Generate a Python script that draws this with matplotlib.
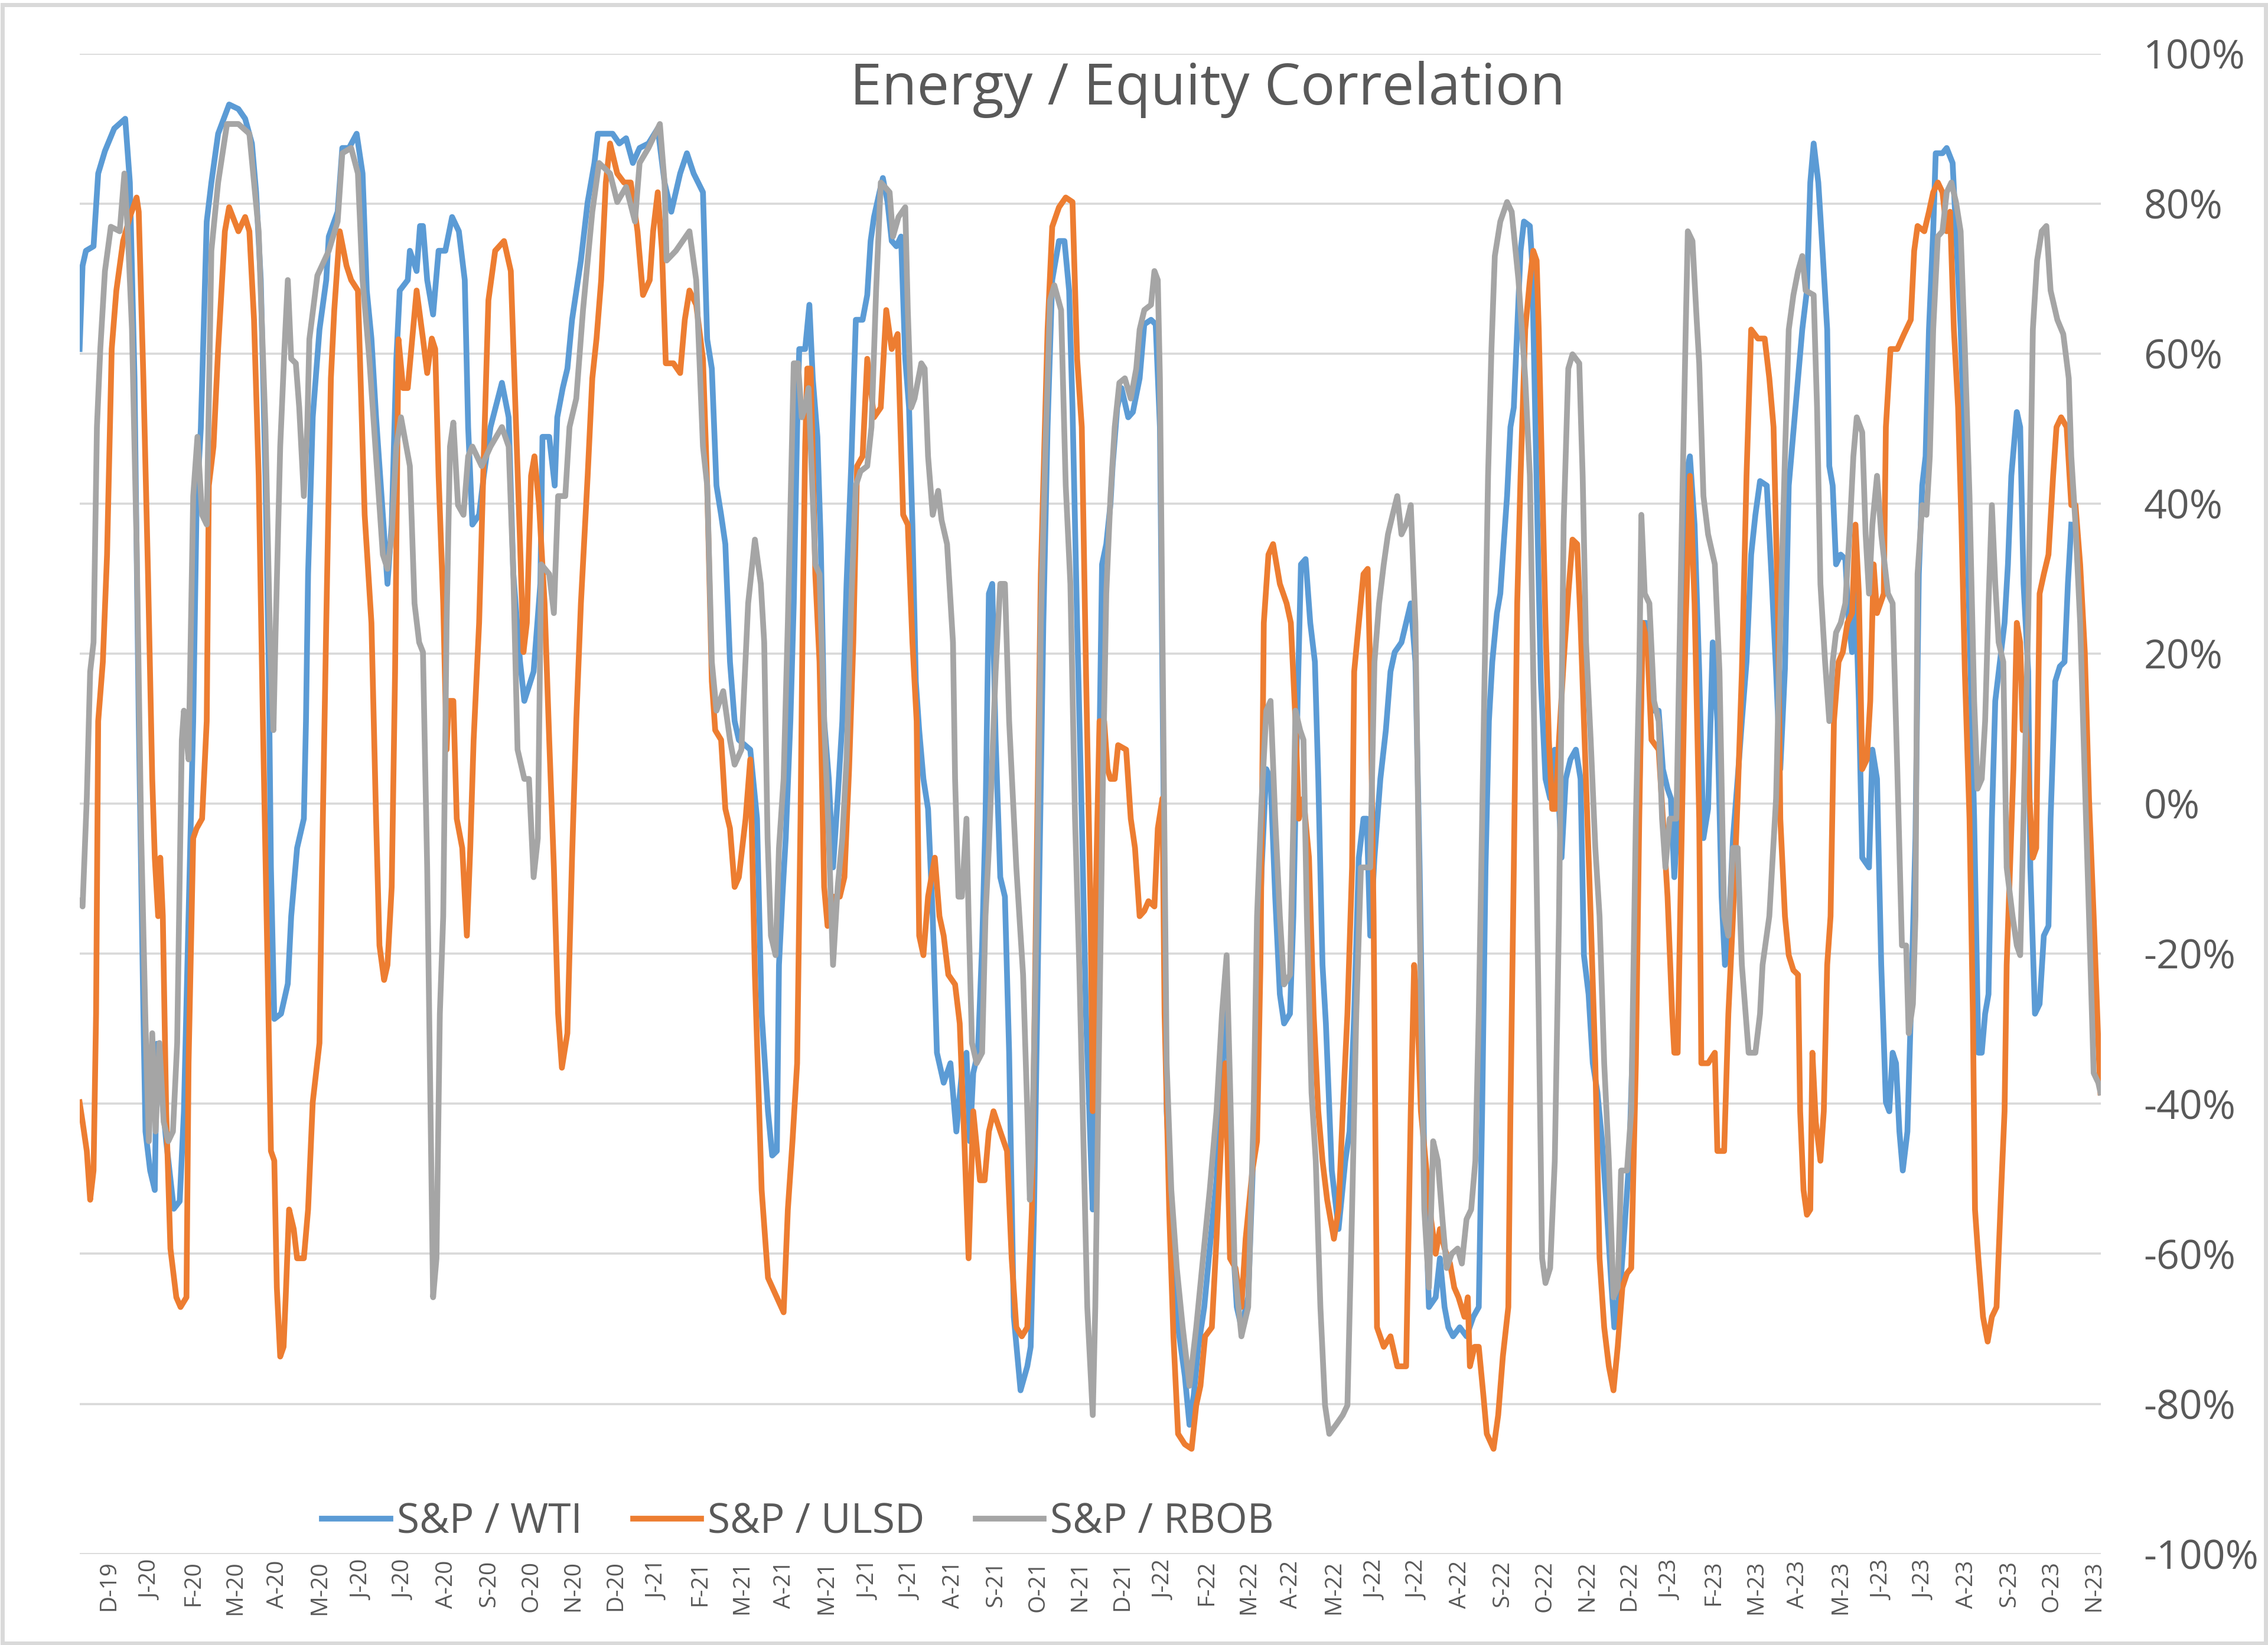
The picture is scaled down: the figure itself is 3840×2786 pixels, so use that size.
import matplotlib.pyplot as plt
from matplotlib.patches import Rectangle
import pandas as pd

plt.rcParams['font.family'] = ['Open Sans', 'DejaVu Sans']

# time in months from 1 Dec 2019, correlation in %
wti = [
    (-0.69, 60.6), (-0.62, 71.7), (-0.54, 73.7), (-0.36, 74.3), (-0.25, 84), (-0.09, 87), (0.13, 90), (0.39, 91.3),
    (0.50, 82.8), (0.61, 56.7), (0.71, 11), (0.82, -28), (0.87, -43.7), (0.98, -48.9), (1.09, -51.5), (1.14, -32),
    (1.36, -45), (1.54, -54), (1.68, -53), (1.78, -41), (1.89, -15), (2.00, 11), (2.08, 39.8), (2.18, 50),
    (2.26, 65.8), (2.32, 77.6), (2.43, 82.8), (2.59, 89.3), (2.85, 93.2), (3.07, 92.6), (3.23, 91.3), (3.39, 88),
    (3.49, 81.5), (3.60, 69.8), (3.71, 43.7), (3.79, 17.6), (3.84, -8.5), (3.92, -28.7), (4.08, -28), (4.24, -24),
    (4.32, -15), (4.46, -5.9), (4.62, -2), (4.67, 11), (4.72, 30.6), (4.83, 51.5), (4.99, 63.2), (5.15, 69.8),
    (5.21, 75.6), (5.42, 78.9), (5.53, 87.4), (5.69, 87.4), (5.87, 89.3), (6.01, 84), (6.11, 68.4), (6.22, 62),
    (6.33, 51.5), (6.49, 38.5), (6.60, 29.3), (6.70, 37.2), (6.81, 59.3), (6.89, 68.4), (7.08, 69.8), (7.13, 73.7),
    (7.29, 71), (7.37, 77), (7.44, 77), (7.54, 69.8), (7.68, 65.2), (7.81, 73.7), (7.97, 73.7), (8.13, 78.2),
    (8.29, 76.3), (8.43, 69.8), (8.51, 50.2), (8.61, 37.2), (8.77, 38.5), (8.88, 43.7), (9.04, 50.2), (9.31, 56.1),
    (9.47, 51.5), (9.58, 30.6), (9.74, 18.9), (9.84, 13.7), (10.06, 17.6), (10.22, 29.3), (10.27, 48.9), (10.43, 48.9),
    (10.56, 42.4), (10.62, 51.5), (10.75, 55.4), (10.86, 58), (10.97, 64.5), (11.18, 72.4), (11.34, 80.2), (11.50, 85.4),
    (11.58, 89.3), (11.93, 89.3), (12.09, 88), (12.25, 88.7), (12.41, 85.4), (12.57, 87.4), (12.78, 88), (13.00, 90),
    (13.16, 82.8), (13.32, 78.9), (13.53, 84), (13.69, 86.7), (13.85, 84), (14.07, 81.5), (14.17, 61.9), (14.28, 58),
    (14.39, 42.4), (14.50, 38.5), (14.60, 34.6), (14.71, 18.9), (14.82, 11), (14.92, 8.5), (15.19, 7.2), (15.35, -2),
    (15.46, -28), (15.61, -41), (15.71, -46.9), (15.82, -46.3), (15.87, -21.5), (15.95, -12.4), (16.03, -4.6), (16.14, 11),
    (16.22, 26.7), (16.30, 50.2), (16.35, 60.6), (16.49, 60.6), (16.59, 66.5), (16.67, 56.7), (16.78, 48.9), (16.86, 34.6),
    (16.94, 11), (17.05, 3.3), (17.15, -8.5), (17.26, 0.7), (17.37, 11), (17.47, 29.3), (17.58, 45), (17.69, 64.5),
    (17.85, 64.5), (17.96, 67.8), (18.04, 75), (18.12, 78.2), (18.25, 81.5), (18.33, 83.4), (18.44, 80.2), (18.54, 75),
    (18.65, 74.3), (18.76, 75.6), (18.86, 59.3), (18.95, 52.8), (19.03, 37.2), (19.11, 16.3), (19.19, 9.8), (19.29, 3.3),
    (19.40, -0.7), (19.51, -15), (19.61, -33.2), (19.77, -37.2), (19.93, -34.6), (20.07, -43.7), (20.20, -35.9), (20.31, -33.2),
    (20.39, -45), (20.47, -35.9), (20.58, -33.2), (20.68, -18.9), (20.76, -2), (20.84, 28), (20.92, 29.3), (21.00, 8.5),
    (21.11, -9.8), (21.22, -12.4), (21.32, -33.2), (21.43, -68.4), (21.59, -78.2), (21.75, -75), (21.83, -72.4), (21.91, -54.1),
    (22.02, -15), (22.13, 24.1), (22.23, 50.2), (22.34, 69.8), (22.50, 75), (22.63, 75), (22.74, 68.4), (22.82, 52.8),
    (22.93, 24.1), (23.04, -2), (23.14, -28), (23.25, -46.3), (23.30, -54.1), (23.36, -28), (23.41, -11.1), (23.52, 31.9),
    (23.62, 34.6), (23.72, 40), (23.77, 45), (23.88, 52.8), (23.98, 55.4), (24.14, 51.5), (24.25, 52.2), (24.41, 56.7),
    (24.52, 63.9), (24.68, 64.5), (24.79, 63.9), (24.89, 50.2), (24.97, 4.6), (25.05, -41), (25.16, -54.1), (25.32, -69.8),
    (25.48, -76.3), (25.59, -82.8), (25.69, -78.9), (25.80, -72.4), (25.94, -67.1), (26.07, -59.3), (26.23, -50.2), (26.36, -37.2),
    (26.44, -22.8), (26.52, -34.6), (26.60, -56.7), (26.71, -67.1), (26.82, -69.8), (26.98, -65.8), (27.08, -50.2), (27.19, -28),
    (27.30, -8.5), (27.41, 4.6), (27.51, 3.3), (27.62, -12.4), (27.73, -25.4), (27.83, -29.3), (27.97, -28), (28.05, -15),
    (28.15, 13.7), (28.23, 31.9), (28.34, 32.6), (28.45, 24.1), (28.56, 18.9), (28.64, 3.3), (28.74, -21.5), (28.82, -29.3),
    (28.96, -48.9), (29.12, -56.7), (29.28, -47.6), (29.38, -43.7), (29.49, -28), (29.60, -7.2), (29.71, -2), (29.79, -2),
    (29.87, -17.6), (29.97, -7.2), (30.11, 3.3), (30.24, 9.8), (30.35, 17.6), (30.45, 20.2), (30.61, 21.5), (30.72, 24.1),
    (30.83, 26.7), (30.94, 18.9), (31.04, -8.5), (31.15, -47.6), (31.26, -67.1), (31.42, -65.8), (31.52, -60.6), (31.63, -67.1),
    (31.72, -69.8), (31.83, -71), (31.99, -69.8), (32.15, -71), (32.31, -68.4), (32.44, -67.1), (32.52, -41), (32.60, -8.5),
    (32.68, 11), (32.76, 18.9), (32.87, 25.4), (32.95, 28), (33.03, 34.6), (33.11, 41), (33.19, 50.2), (33.27, 52.8),
    (33.35, 63.2), (33.43, 73.7), (33.51, 77.6), (33.65, 77), (33.70, 72.4), (33.75, 59.3), (33.83, 37.2), (33.91, 16.3),
    (34.02, 3.3), (34.13, 0.7), (34.24, 7.2), (34.32, 2), (34.40, -7.2), (34.50, 3.3), (34.61, 5.9), (34.74, 7.2),
    (34.85, 3.3), (34.93, -20.2), (35.04, -25.4), (35.14, -34.6), (35.25, -38.5), (35.36, -45), (35.47, -54.1), (35.57, -63.2),
    (35.65, -69.8), (35.79, -64.5), (35.89, -56.7), (36.00, -47.6), (36.11, -28), (36.21, -8.5), (36.32, 24.1), (36.40, 24.1),
    (36.48, 21.5), (36.59, 12.4), (36.70, 12.4), (36.80, 4.6), (36.91, 2), (36.99, 0.7), (37.07, -9.8), (37.15, -2),
    (37.23, 17.6), (37.34, 43.7), (37.44, 46.3), (37.55, 37.2), (37.66, 17.6), (37.76, -4.6), (37.87, -0.7), (37.98, 21.5),
    (38.09, 11), (38.19, -12.4), (38.27, -21.5), (38.35, -17.6), (38.46, -4.6), (38.57, 3.3), (38.67, 11), (38.78, 18.9),
    (38.89, 33.2), (38.99, 38.5), (39.10, 43), (39.26, 42.4), (39.37, 30.6), (39.48, 17.6), (39.58, 4.6), (39.69, 18),
    (39.78, 42.4), (39.94, 52.8), (40.10, 63.2), (40.21, 68.4), (40.29, 82.8), (40.37, 88), (40.48, 82.8), (40.58, 73.7),
    (40.69, 63.2), (40.74, 45), (40.82, 42.4), (40.90, 31.9), (41.01, 33.2), (41.12, 32.6), (41.20, 24.1), (41.28, 20.2),
    (41.36, 28), (41.44, 13.7), (41.52, -7.2), (41.68, -8.5), (41.76, 7.2), (41.87, 3.3), (41.97, -21.5), (42.08, -39.8),
    (42.16, -41), (42.24, -33.2), (42.32, -34.6), (42.40, -43.7), (42.48, -48.9), (42.59, -43.7), (42.67, -28), (42.78, -4.6),
    (42.86, 30.6), (42.94, 42.4), (43.02, 46.3), (43.10, 63.2), (43.20, 76.3), (43.26, 86.7), (43.42, 86.7), (43.52, 87.4),
    (43.66, 85.4), (43.74, 76.3), (43.85, 63.2), (43.95, 46.3), (44.06, 24.1), (44.17, -2), (44.27, -33.2), (44.35, -33.2),
    (44.43, -28), (44.51, -25.4), (44.59, -2), (44.67, 13.7), (44.78, 18.9), (44.89, 24.1), (44.97, 31.9), (45.05, 43.7),
    (45.18, 52.2), (45.26, 50.2), (45.34, 29.3), (45.45, 17.6), (45.50, -8.5), (45.61, -28), (45.72, -26.7), (45.82, -17.6),
    (45.93, -16.3), (45.98, -2), (46.09, 16.3), (46.20, 18.3), (46.31, 18.9), (46.39, 29.3), (46.47, 37.2),
]

ulsd = [
    (-0.69, -39.8), (-0.62, -42.4), (-0.52, -46.3), (-0.44, -52.8), (-0.36, -48.9), (-0.30, -28), (-0.25, 11), (-0.14, 18.9),
    (-0.04, 33.2), (0.07, 60.6), (0.18, 68.4), (0.34, 75), (0.50, 78.2), (0.66, 80.8), (0.71, 78.9), (0.82, 56.7),
    (0.93, 30.6), (1.03, 3.3), (1.09, -7.2), (1.17, -15), (1.22, -7.2), (1.28, -15), (1.36, -41), (1.46, -59.3),
    (1.60, -65.8), (1.70, -67.1), (1.84, -65.8), (1.89, -34.6), (2.00, -4.6), (2.08, -3.3), (2.21, -2), (2.32, 11),
    (2.37, 42.4), (2.48, 47.6), (2.59, 60.6), (2.75, 76.3), (2.85, 79.5), (3.07, 76.3), (3.23, 78.2), (3.33, 76.3),
    (3.44, 64.5), (3.55, 43.7), (3.65, 11), (3.76, -21.5), (3.84, -46.3), (3.92, -47.6), (3.98, -64.5), (4.06, -73.7),
    (4.14, -72.4), (4.19, -65.8), (4.27, -54.1), (4.38, -56.7), (4.46, -60.6), (4.62, -60.6), (4.72, -54.1), (4.83, -39.8),
    (4.99, -31.9), (5.05, -8.5), (5.15, 24.1), (5.26, 56.7), (5.34, 65.8), (5.47, 76.3), (5.63, 71.7), (5.74, 69.8),
    (5.90, 68.4), (6.06, 38.5), (6.22, 24.1), (6.33, -2), (6.41, -18.9), (6.52, -23.5), (6.60, -21.5), (6.70, -11.1),
    (6.78, 17.6), (6.86, 61.9), (6.97, 55.4), (7.08, 55.4), (7.29, 68.4), (7.44, 62), (7.54, 57.4), (7.65, 62),
    (7.73, 60.6), (7.81, 43.7), (7.92, 26.7), (8.00, 7.2), (8.05, 13.7), (8.16, 13.7), (8.24, -2), (8.37, -5.9),
    (8.48, -17.6), (8.56, -5.9), (8.64, 8.5), (8.77, 24.1), (8.88, 46.3), (8.99, 67.1), (9.15, 73.7), (9.36, 75),
    (9.52, 71), (9.63, 52.8), (9.74, 34.6), (9.82, 20.2), (9.90, 24.1), (10.00, 43.7), (10.08, 46.3), (10.19, 39.8),
    (10.32, 26.7), (10.43, 8.5), (10.54, -8.5), (10.64, -28), (10.73, -35.2), (10.86, -30.6), (10.97, -7.2), (11.07, 11),
    (11.18, 26.7), (11.34, 43.7), (11.45, 56.7), (11.55, 62), (11.66, 69.8), (11.77, 82.8), (11.87, 88), (12.04, 84),
    (12.20, 82.8), (12.36, 82.8), (12.52, 76.3), (12.65, 67.8), (12.81, 69.8), (12.89, 76.3), (13.00, 81.5), (13.10, 73.7),
    (13.19, 58.7), (13.37, 58.7), (13.53, 57.4), (13.64, 64.5), (13.75, 68.4), (13.91, 66.5), (14.07, 59.3), (14.17, 42.4),
    (14.28, 16.3), (14.36, 9.8), (14.50, 8.5), (14.60, -0.7), (14.71, -3.3), (14.82, -11.1), (14.92, -9.8), (15.08, -2),
    (15.19, 5.9), (15.30, -22.8), (15.46, -51.5), (15.61, -63.2), (15.82, -65.8), (15.98, -67.8), (16.08, -54.1), (16.19, -45),
    (16.30, -34.6), (16.38, -2), (16.43, 24.1), (16.49, 47.6), (16.54, 58), (16.62, 58), (16.67, 46.3), (16.73, 30.6),
    (16.83, 18.9), (16.94, -11.1), (17.02, -16.3), (17.15, -12.4), (17.31, -12.4), (17.42, -9.8), (17.53, 4.6), (17.63, 21.5),
    (17.72, 45), (17.85, 46.3), (17.96, 59.3), (18.12, 51.5), (18.28, 52.8), (18.41, 65.8), (18.54, 60.6), (18.68, 62.6),
    (18.81, 38.5), (18.92, 37.2), (19.03, 21.5), (19.13, 11), (19.19, -17.6), (19.29, -20.2), (19.40, -12.4), (19.56, -7.2),
    (19.67, -15), (19.77, -17.6), (19.88, -22.8), (20.04, -24.1), (20.15, -29.3), (20.26, -45), (20.36, -60.6), (20.47, -41),
    (20.63, -50.2), (20.74, -50.2), (20.84, -43.7), (20.95, -41), (21.11, -43.7), (21.27, -46.3), (21.38, -60.6), (21.49, -69.8),
    (21.62, -71), (21.75, -69.8), (21.86, -54.1), (21.97, -8.5), (22.07, 30.6), (22.23, 63.2), (22.34, 76.9), (22.50, 79.5),
    (22.66, 80.8), (22.82, 80.2), (22.93, 59.3), (23.04, 50.2), (23.14, 17.6), (23.25, -15), (23.30, -41), (23.36, -15),
    (23.46, 11), (23.57, 11), (23.65, 4.6), (23.72, 3.3), (23.82, 3.3), (23.90, 7.8), (24.09, 7.2), (24.20, -2),
    (24.30, -5.9), (24.41, -15), (24.52, -14.3), (24.62, -13), (24.76, -13.7), (24.84, -3.3), (24.95, 0.7), (25.00, -28),
    (25.11, -54.1), (25.21, -71), (25.32, -84), (25.48, -85.4), (25.64, -86), (25.75, -80.2), (25.85, -77.6), (25.96, -71),
    (26.12, -69.8), (26.23, -58), (26.34, -45), (26.44, -34.6), (26.55, -60.6), (26.68, -61.9), (26.82, -67.1), (26.92, -58),
    (27.08, -48.9), (27.19, -45), (27.27, -21.5), (27.35, 24.1), (27.46, 33.2), (27.57, 34.6), (27.73, 29.3), (27.89, 26.7),
    (27.99, 24.1), (28.10, 11), (28.18, -2), (28.29, 0.7), (28.42, -7.2), (28.53, -28), (28.64, -41), (28.74, -47.6),
    (28.85, -52.8), (29.01, -58), (29.12, -54.1), (29.22, -41), (29.33, -28), (29.44, -8.5), (29.49, 17.6), (29.60, 24.1),
    (29.71, 30.6), (29.81, 31.3), (29.87, 17.6), (29.95, -15), (30.03, -69.8), (30.19, -72.4), (30.35, -71), (30.51, -75),
    (30.72, -75), (30.83, -41), (30.91, -21.5), (30.99, -28), (31.07, -41), (31.18, -47.6), (31.31, -55.4), (31.42, -60),
    (31.52, -56.7), (31.63, -59.3), (31.76, -61.3), (31.86, -64.5), (31.96, -65.8), (32.10, -68.4), (32.18, -65.8), (32.23, -75),
    (32.34, -72.4), (32.44, -72.4), (32.55, -78.9), (32.63, -84), (32.79, -86), (32.90, -81.5), (33.01, -73.7), (33.14, -67.1),
    (33.19, -41), (33.27, -8.5), (33.35, 26.7), (33.43, 43.7), (33.54, 63.2), (33.65, 69.8), (33.73, 73.7), (33.81, 72.4),
    (33.86, 63.2), (33.94, 43.7), (34.02, 24.1), (34.10, 8.5), (34.18, -0.7), (34.26, -0.7), (34.34, 8.5), (34.45, 18.9),
    (34.56, 28), (34.66, 35.2), (34.77, 34.6), (34.85, 24.1), (34.93, 11), (35.09, -15), (35.20, -34.6), (35.30, -60.6),
    (35.41, -69.8), (35.52, -75), (35.63, -78.2), (35.73, -72.4), (35.84, -64.5), (35.95, -62.6), (36.05, -61.9), (36.16, -34.6),
    (36.24, -2), (36.32, 24.1), (36.43, 21.5), (36.53, 8.5), (36.70, 7.2), (36.80, -2), (36.91, -12.4), (37.02, -28),
    (37.07, -33.2), (37.15, -33.2), (37.23, -8.5), (37.34, 24.1), (37.44, 43.7), (37.55, 26.7), (37.66, -2), (37.71, -34.6),
    (37.87, -34.6), (38.03, -33.2), (38.09, -46.3), (38.25, -46.3), (38.35, -28), (38.46, -15), (38.57, 0.7), (38.67, 17.6),
    (38.78, 43.7), (38.89, 63.2), (39.05, 62), (39.21, 62), (39.32, 56.7), (39.42, 50.2), (39.53, 24.1), (39.58, -2),
    (39.69, -15), (39.78, -20.2), (39.89, -22.2), (40.00, -22.8), (40.05, -41), (40.13, -51.5), (40.21, -54.8), (40.29, -54.1),
    (40.34, -33.2), (40.42, -42.4), (40.53, -47.6), (40.61, -41), (40.69, -21.5), (40.77, -15), (40.85, 11), (40.96, 18.9),
    (41.06, 20.2), (41.17, 24.1), (41.28, 25.4), (41.36, 37.2), (41.44, 28), (41.52, 4.6), (41.63, 5.9), (41.71, 13.7),
    (41.79, 31.9), (41.87, 25.4), (42.03, 28), (42.08, 50.2), (42.19, 60.6), (42.35, 60.6), (42.51, 62.6), (42.67, 64.5),
    (42.75, 73.7), (42.83, 77), (42.99, 76.3), (43.10, 78.9), (43.20, 81.5), (43.31, 82.8), (43.42, 81.5), (43.52, 76.3),
    (43.60, 78.9), (43.69, 63.2), (43.79, 52.8), (43.87, 37.2), (43.95, 17.6), (44.06, -2), (44.14, -28), (44.19, -54.1),
    (44.27, -60.6), (44.38, -68.4), (44.49, -71.7), (44.59, -68.4), (44.70, -67.1), (44.81, -51.5), (44.89, -41), (44.94, -21.5),
    (45.02, -8.5), (45.10, 4.6), (45.18, 24.1), (45.26, 21.5), (45.32, 9.8), (45.37, 13.7), (45.48, 0.7), (45.56, -7.2),
    (45.64, -5.9), (45.72, 28), (45.82, 30.6), (45.93, 33.2), (46.04, 43.7), (46.12, 50.2), (46.23, 51.5), (46.36, 50.2),
    (46.47, 39.8), (46.57, 39.8), (46.68, 31.9), (46.79, 20.2), (46.89, 0.7), (47.00, -15), (47.11, -31.9), (47.16, -38.5),
]

rbob = [
    (-0.69, -13), (-0.62, -13.7), (-0.52, 0.7), (-0.44, 17.6), (-0.36, 21.5), (-0.28, 50.2), (-0.20, 60.6), (-0.09, 71),
    (0.05, 76.9), (0.26, 76.3), (0.37, 84), (0.45, 76.3), (0.55, 63.2), (0.66, 34.6), (0.77, -4.6), (0.87, -29.3),
    (0.95, -45), (1.03, -30.6), (1.11, -43.7), (1.20, -31.9), (1.30, -42.4), (1.41, -45), (1.52, -43.7), (1.62, -31.9),
    (1.73, 8.5), (1.78, 12.4), (1.89, 5.9), (2.00, 41), (2.10, 48.9), (2.21, 38.5), (2.32, 37.2), (2.43, 73.7),
    (2.59, 82.8), (2.80, 90.6), (3.07, 90.6), (3.33, 89.3), (3.55, 76.3), (3.71, 50.2), (3.82, 21.5), (3.90, 9.8),
    (3.95, 22.8), (4.06, 47.6), (4.16, 60.6), (4.24, 69.8), (4.32, 59.3), (4.43, 58.7), (4.51, 52.8), (4.62, 41),
    (4.70, 50.2), (4.75, 61.9), (4.94, 70.4), (5.21, 73.7), (5.42, 77.6), (5.53, 86.7), (5.74, 87.4), (5.90, 84),
    (6.01, 69.8), (6.17, 59.3), (6.33, 46.3), (6.49, 33.2), (6.60, 31.3), (6.70, 35.9), (6.81, 47.6), (6.92, 51.5),
    (7.13, 45), (7.24, 26.7), (7.35, 21.5), (7.44, 20.2), (7.54, -8.5), (7.62, -41), (7.68, -65.8), (7.76, -60.6),
    (7.84, -28), (7.92, -15), (8.00, 24.1), (8.08, 47.6), (8.16, 50.8), (8.27, 39.8), (8.40, 38.5), (8.51, 46.3),
    (8.61, 47.6), (8.83, 45), (9.04, 47.6), (9.31, 50.2), (9.47, 47.6), (9.58, 30.6), (9.68, 7.2), (9.84, 3.3),
    (9.95, 3.3), (10.06, -9.8), (10.16, -4.6), (10.24, 31.9), (10.43, 30.6), (10.54, 25.4), (10.64, 41), (10.81, 41),
    (10.91, 50.2), (11.07, 54), (11.23, 65.8), (11.45, 78.9), (11.61, 85.4), (11.87, 84), (12.04, 80.2), (12.25, 82.2),
    (12.46, 77.6), (12.57, 85.4), (12.78, 87.4), (13.05, 90.6), (13.16, 82.8), (13.21, 72.4), (13.43, 73.7), (13.75, 76.3),
    (13.91, 69.8), (14.07, 47.6), (14.17, 42.4), (14.28, 18.9), (14.39, 12.4), (14.55, 15), (14.71, 8.5), (14.82, 5.2),
    (14.98, 7.2), (15.14, 26.7), (15.30, 35.2), (15.44, 29.3), (15.52, 21.5), (15.60, -4.6), (15.68, -17.6), (15.79, -20.2),
    (15.87, -5.9), (15.98, 3.3), (16.08, 24.1), (16.16, 43.7), (16.22, 58.7), (16.32, 58.7), (16.41, 51.5), (16.49, 52.8),
    (16.57, 55.4), (16.65, 43.7), (16.73, 31.9), (16.83, 30.6), (16.94, 11), (17.05, -4.6), (17.15, -21.5), (17.26, -11.1),
    (17.37, -4.6), (17.47, 5.9), (17.58, 26.7), (17.69, 42.4), (17.80, 44.3), (17.96, 45), (18.06, 50.2), (18.17, 68.4),
    (18.28, 82.8), (18.38, 82.2), (18.49, 81.5), (18.57, 75.6), (18.70, 78.2), (18.86, 79.5), (18.92, 65.8), (19.00, 52.8),
    (19.08, 54), (19.24, 58.7), (19.32, 58), (19.40, 46.3), (19.51, 38.5), (19.64, 41.7), (19.72, 37.8), (19.85, 34.6),
    (19.99, 21.5), (20.04, 3.3), (20.12, -12.4), (20.20, -12.4), (20.31, -2), (20.36, -15), (20.44, -31.9), (20.55, -34.6),
    (20.68, -33.2), (20.76, -15), (20.84, -5.9), (21.00, 17.6), (21.11, 29.3), (21.22, 29.3), (21.32, 11), (21.49, -8.5),
    (21.65, -22.8), (21.75, -41), (21.81, -52.8), (21.86, -47.6), (21.97, -15), (22.07, 24.1), (22.18, 47.6), (22.29, 67.1),
    (22.39, 69.1), (22.55, 65.8), (22.66, 42.4), (22.77, 29.3), (22.88, -2), (22.98, -21.5), (23.09, -47.6), (23.17, -67.1),
    (23.30, -81.5), (23.36, -67.1), (23.46, -28), (23.54, 3.3), (23.62, 28), (23.72, 41), (23.82, 50.2), (23.93, 56.1),
    (24.06, 56.7), (24.20, 54), (24.33, 58), (24.41, 63.2), (24.52, 65.8), (24.68, 66.5), (24.76, 71), (24.84, 69.8),
    (24.89, 56.7), (24.97, 11), (25.05, -34.6), (25.16, -51.5), (25.29, -61.9), (25.43, -69.8), (25.59, -77.6), (25.75, -69.8),
    (25.91, -60.6), (26.07, -51.5), (26.23, -41), (26.36, -28), (26.47, -20.2), (26.55, -37.2), (26.66, -61.9), (26.82, -71),
    (26.98, -67.1), (27.11, -41), (27.19, -15), (27.30, 0.7), (27.41, 12.4), (27.51, 13.7), (27.62, -2), (27.73, -15),
    (27.83, -24.1), (27.97, -22.8), (28.05, -2), (28.10, 12.4), (28.21, 9.8), (28.29, 8.5), (28.37, -15), (28.48, -38.5),
    (28.58, -47.6), (28.69, -67.1), (28.80, -80.2), (28.90, -84), (29.06, -82.8), (29.22, -81.5), (29.33, -80.2), (29.44, -54.1),
    (29.54, -28), (29.65, -8.5), (29.76, -8.5), (29.87, -8.5), (29.97, 18.9), (30.08, 26.7), (30.19, 31.9), (30.29, 35.9),
    (30.40, 38.5), (30.51, 41), (30.61, 35.9), (30.72, 37.2), (30.83, 39.8), (30.94, 24.1), (31.04, -15), (31.15, -54.1),
    (31.26, -64.5), (31.36, -45), (31.47, -47.6), (31.58, -55.4), (31.68, -61.9), (31.80, -60), (31.94, -59.3), (32.04, -61.3),
    (32.15, -55.4), (32.26, -54.1), (32.36, -47.6), (32.44, -28), (32.52, -2), (32.60, 24.1), (32.66, 43.7), (32.74, 60.6),
    (32.82, 73), (32.95, 77.6), (33.11, 80.2), (33.22, 78.9), (33.38, 69.8), (33.54, 56.7), (33.65, 43.7), (33.75, 11),
    (33.86, -28), (33.94, -60.6), (34.02, -63.9), (34.13, -61.9), (34.24, -47.6), (34.34, -15), (34.45, 37.2), (34.56, 58),
    (34.66, 59.9), (34.82, 58.7), (34.90, 43.7), (34.98, 21.5), (35.09, 8.5), (35.20, -5.9), (35.30, -15), (35.41, -34.6),
    (35.52, -47.6), (35.63, -65.8), (35.73, -64.5), (35.81, -48.9), (35.95, -48.9), (36.05, -41), (36.16, -2), (36.24, 17.6),
    (36.29, 38.5), (36.37, 28), (36.48, 26.7), (36.59, 13.7), (36.70, 11), (36.78, -2), (36.86, -8.5), (36.96, -2),
    (37.12, -2), (37.23, 31.9), (37.34, 63.2), (37.39, 76.3), (37.50, 75), (37.60, 64.5), (37.66, 58.7), (37.76, 41),
    (37.87, 35.9), (38.03, 31.9), (38.14, 17.6), (38.25, -15), (38.35, -17.6), (38.46, -5.9), (38.57, -5.9), (38.67, -21.5),
    (38.83, -33.2), (38.99, -33.2), (39.10, -28), (39.16, -21.5), (39.32, -15), (39.48, 0.7), (39.58, 24.1), (39.69, 46.3),
    (39.78, 63.2), (39.89, 67.8), (40.00, 71), (40.10, 73), (40.18, 68.4), (40.37, 67.8), (40.45, 52.8), (40.53, 29.3),
    (40.64, 18.9), (40.74, 11), (40.82, 18.9), (40.90, 22.8), (41.01, 24.1), (41.12, 26.7), (41.23, 37.2), (41.31, 46.3),
    (41.39, 51.5), (41.52, 49.5), (41.60, 35.9), (41.68, 28), (41.76, 37.2), (41.87, 43.7), (41.97, 35.9), (42.13, 28),
    (42.24, 26.7), (42.35, 4.6), (42.46, -18.9), (42.56, -18.9), (42.62, -30.6), (42.72, -26.7), (42.78, -15), (42.83, 30.6),
    (42.94, 39.8), (43.04, 38.5), (43.12, 46.3), (43.20, 63.2), (43.31, 75.6), (43.42, 76.3), (43.52, 81.5), (43.63, 82.8),
    (43.74, 80.2), (43.85, 76.3), (43.95, 60.6), (44.06, 41), (44.17, 13.7), (44.25, 2), (44.35, 3.3), (44.43, 11),
    (44.51, 26.7), (44.59, 39.8), (44.67, 29.3), (44.75, 21.5), (44.86, 18.9), (44.94, -8.5), (45.08, -15), (45.18, -18.9),
    (45.26, -20.2), (45.34, -2), (45.45, 24.1), (45.56, 63.2), (45.66, 72.4), (45.77, 76.3), (45.88, 77), (45.98, 68.4),
    (46.14, 64.5), (46.28, 62.6), (46.41, 56.7), (46.47, 46.3), (46.57, 37.2), (46.68, 24.1), (46.79, 3.3), (46.89, -15),
    (47.00, -35.9), (47.11, -37.2), (47.16, -38.5),
]

series = [('S&P / WTI', wti, '#5B9BD5'),
          ('S&P / ULSD', ulsd, '#ED7D31'),
          ('S&P / RBOB', rbob, '#A5A5A5')]

months = pd.date_range('2019-12-01', '2023-11-01', freq='MS')
month_labels = [f"{d.strftime('%b')[0]}-{d:%y}" for d in months]
y_ticks = list(range(-100, 101, 20))

text_color = '#595959'

fig = plt.figure(figsize=(19.2, 13.93), dpi=200)
ax = fig.add_axes([0.0351, 0.0554, 0.8912, 0.9121])

for name, pts, color in series:
    t, v = zip(*pts)
    ax.plot(t, v, color=color, lw=3.5, label=name, solid_joinstyle='round')

ax.set_xlim(-0.69, 47.17)
ax.set_ylim(-100, 100)
ax.set_yticks(y_ticks)
ax.set_yticklabels([f'{y}%' for y in y_ticks])
ax.yaxis.tick_right()
ax.set_xticks(range(len(months)))
ax.set_xticklabels(month_labels, rotation=90)

ax.tick_params(axis='y', length=0, pad=26, labelsize=24.5, labelcolor=text_color)
ax.tick_params(axis='x', length=0, pad=4, labelsize=14, labelcolor=text_color)
ax.grid(axis='y', color='#D9D9D9', lw=1.3)
ax.set_axisbelow(True)
for s in ax.spines.values():
    s.set_visible(False)

fig.text(0.5325, 0.9365, 'Energy / Equity Correlation', ha='center', va='baseline',
         fontsize=35, color=text_color)

ax.legend(loc='center left', bbox_to_anchor=(0.120, 0.021), ncol=3, frameon=False,
          fontsize=25, labelcolor=text_color, handlelength=1.66, handletextpad=0.16,
          columnspacing=1.24, borderpad=0, borderaxespad=0)

fig.patches.append(Rectangle((0.001, 0.001), 0.998, 0.996, transform=fig.transFigure,
                             fill=False, edgecolor='#D9D9D9', lw=2.5))

fig.savefig('out.png', dpi=200)
